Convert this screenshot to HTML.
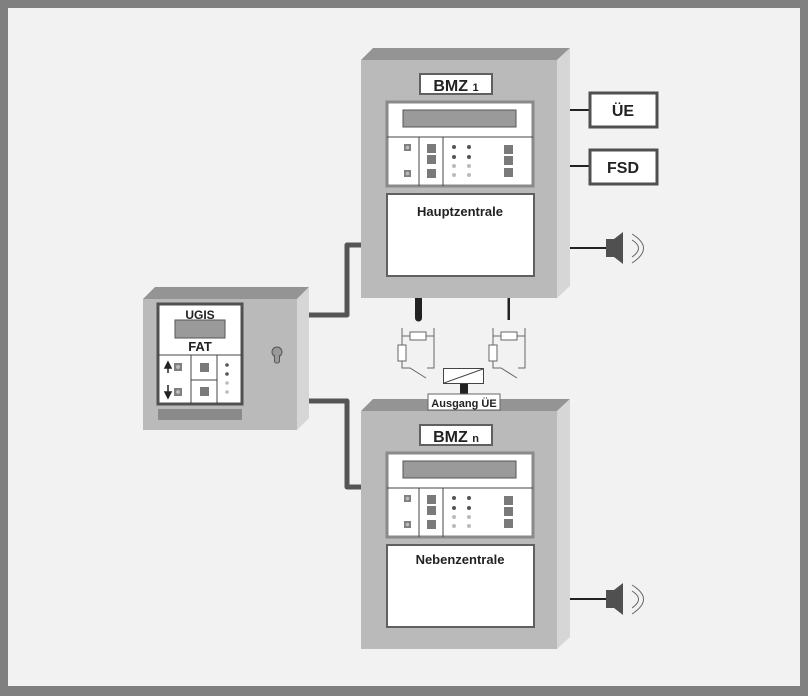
<!DOCTYPE html>
<html><head><meta charset="utf-8"><style>
html,body{margin:0;padding:0;background:#808080}
svg{display:block}
text{font-family:"Liberation Sans",sans-serif;font-weight:bold;fill:#222}
</style></head><body>
<svg width="808" height="696" viewBox="0 0 808 696" xmlns="http://www.w3.org/2000/svg">
<rect x="0" y="0" width="808" height="696" fill="#808080"/>
<rect x="8" y="8" width="792" height="678" fill="#f2f2f2"/>

<defs>
<g id="bmz">
  <polygon points="361,60 373,48 570,48 557,60" fill="#949494"/>
  <polygon points="557,60 570,48 570,286 557,298" fill="#d6d6d6"/>
  <rect x="361" y="60" width="196" height="238" fill="#bababa"/>
  <rect x="420" y="74" width="72" height="20" fill="#fff" stroke="#606060" stroke-width="2"/>
  <rect x="387" y="102" width="146" height="84" fill="#fff" stroke="#8a8a8a" stroke-width="3"/>
  <rect x="403" y="110" width="113" height="17" fill="#9a9a9a" stroke="#555" stroke-width="1"/>
  <line x1="387" y1="137" x2="533" y2="137" stroke="#444" stroke-width="1"/>
  <line x1="419" y1="137" x2="419" y2="186" stroke="#444" stroke-width="1"/>
  <line x1="443" y1="137" x2="443" y2="186" stroke="#444" stroke-width="1"/>
  <rect x="404" y="144" width="7" height="7" fill="#808080"/><circle cx="407.5" cy="147.5" r="1.8" fill="#bbb"/>
  <rect x="404" y="170" width="7" height="7" fill="#808080"/><circle cx="407.5" cy="173.5" r="1.8" fill="#bbb"/>
  <rect x="427" y="144" width="9" height="9" fill="#7a7a7a"/>
  <rect x="427" y="155" width="9" height="9" fill="#7a7a7a"/>
  <rect x="427" y="169" width="9" height="9" fill="#7a7a7a"/>
  <circle cx="454" cy="147" r="2" fill="#555"/><circle cx="469" cy="147" r="2" fill="#555"/>
  <circle cx="454" cy="157" r="2" fill="#555"/><circle cx="469" cy="157" r="2" fill="#555"/>
  <circle cx="454" cy="166" r="2" fill="#bbb"/><circle cx="469" cy="166" r="2" fill="#bbb"/>
  <circle cx="454" cy="175" r="2" fill="#bbb"/><circle cx="469" cy="175" r="2" fill="#bbb"/>
  <rect x="504" y="145" width="9" height="9" fill="#7a7a7a"/>
  <rect x="504" y="156" width="9" height="9" fill="#7a7a7a"/>
  <rect x="504" y="168" width="9" height="9" fill="#7a7a7a"/>
  <rect x="387" y="194" width="147" height="82" fill="#fff" stroke="#606060" stroke-width="2"/>
  <line x1="570" y1="248" x2="607" y2="248" stroke="#222" stroke-width="2"/>
  <rect x="606" y="239" width="9" height="18" fill="#505050"/>
  <polygon points="614,239 623,232 623,264 614,257" fill="#505050"/>
  <path d="M632,234 Q655,248 632,263" fill="none" stroke="#666" stroke-width="1"/>
  <path d="M632,240 Q645,248 632,257" fill="none" stroke="#666" stroke-width="1"/>
</g>
</defs>

<use href="#bmz"/>
<text x="456" y="91" font-size="16" text-anchor="middle">BMZ <tspan font-size="11">1</tspan></text>
<text x="460" y="216" font-size="13" text-anchor="middle">Hauptzentrale</text>

<use href="#bmz" transform="translate(0,351)"/>
<text x="456" y="442" font-size="16" text-anchor="middle">BMZ <tspan font-size="11">n</tspan></text>
<text x="460" y="564" font-size="13" text-anchor="middle">Nebenzentrale</text>

<line x1="570" y1="110" x2="590" y2="110" stroke="#222" stroke-width="2"/>
<line x1="570" y1="166" x2="590" y2="166" stroke="#222" stroke-width="2"/>
<rect x="590" y="93" width="67" height="34" fill="#fff" stroke="#505050" stroke-width="3"/>
<rect x="590" y="150" width="67" height="34" fill="#fff" stroke="#505050" stroke-width="3"/>
<text x="623" y="116" font-size="16" text-anchor="middle">ÜE</text>
<text x="623" y="173" font-size="16" text-anchor="middle">FSD</text>

<polyline points="309,315 347,315 347,245 361,245" fill="none" stroke="#555" stroke-width="5" stroke-linejoin="round"/>
<polyline points="309,401 347,401 347,487 361,487" fill="none" stroke="#555" stroke-width="5" stroke-linejoin="round"/>

<polygon points="143,299 155,287 309,287 297,299" fill="#949494"/>
<polygon points="297,299 309,287 309,418 297,430" fill="#d6d6d6"/>
<rect x="143" y="299" width="154" height="131" fill="#bababa"/>
<rect x="158" y="304" width="84" height="100" fill="#fff" stroke="#505050" stroke-width="3"/>
<text x="200" y="319" font-size="12" text-anchor="middle">UGIS</text>
<rect x="175" y="320" width="50" height="18" fill="#9a9a9a" stroke="#555" stroke-width="1"/>
<text x="200" y="351" font-size="13" text-anchor="middle">FAT</text>
<line x1="158" y1="355" x2="242" y2="355" stroke="#444"/>
<line x1="191" y1="355" x2="191" y2="404" stroke="#444"/>
<line x1="217" y1="355" x2="217" y2="404" stroke="#444"/>
<line x1="191" y1="380" x2="217" y2="380" stroke="#444"/>
<path d="M168,362 L165,368 H171 Z M168,367 V373" stroke="#222" stroke-width="1.5" fill="#222"/>
<path d="M168,398 L165,392 H171 Z M168,385 V393" stroke="#222" stroke-width="1.5" fill="#222"/>
<rect x="174" y="363" width="8" height="8" fill="#808080"/><circle cx="178" cy="367" r="2" fill="#bbb"/>
<rect x="174" y="388" width="8" height="8" fill="#808080"/><circle cx="178" cy="392" r="2" fill="#bbb"/>
<rect x="200" y="363" width="9" height="9" fill="#7a7a7a"/>
<rect x="200" y="387" width="9" height="9" fill="#7a7a7a"/>
<circle cx="227" cy="365" r="1.8" fill="#555"/><circle cx="227" cy="374" r="1.8" fill="#555"/>
<circle cx="227" cy="383" r="1.8" fill="#bbb"/><circle cx="227" cy="392" r="1.8" fill="#bbb"/>
<rect x="158" y="409" width="84" height="11" fill="#8a8a8a"/>
<circle cx="277" cy="352" r="5" fill="#999" stroke="#555" stroke-width="1"/>
<rect x="274.5" y="353" width="5" height="10" rx="2" fill="#999" stroke="#555" stroke-width="1"/>
<circle cx="277" cy="352" r="4" fill="#999"/>

<path d="M415,298 V318 A3.5,3.5 0 0 0 422,318 V298 Z" fill="#222"/>
<rect x="507.5" y="298" width="2.5" height="22" fill="#222"/>
<g fill="none" stroke="#666" stroke-width="1">
  <path d="M402,328 V345 M402,361 V368 H410 L426,378 M402,336 H410 M426,336 H434 M434,328 V368 H427"/>
  <path d="M493,328 V345 M493,361 V368 H501 L517,378 M493,336 H501 M517,336 H525 M525,328 V368 H518"/>
</g>
<rect x="410" y="332" width="16" height="8" fill="#fff" stroke="#666"/>
<rect x="398" y="345" width="8" height="16" fill="#fff" stroke="#666"/>
<rect x="501" y="332" width="16" height="8" fill="#fff" stroke="#666"/>
<rect x="489" y="345" width="8" height="16" fill="#fff" stroke="#666"/>
<rect x="443.5" y="368.5" width="40" height="15" fill="#fff" stroke="#444"/>
<line x1="444" y1="383" x2="483" y2="369" stroke="#444"/>
<rect x="460" y="384" width="8" height="11" fill="#222"/>
<rect x="428" y="394" width="72" height="16" fill="#fff" stroke="#666"/>
<text x="464" y="407" font-size="11" text-anchor="middle">Ausgang ÜE</text>
</svg>
</body></html>
